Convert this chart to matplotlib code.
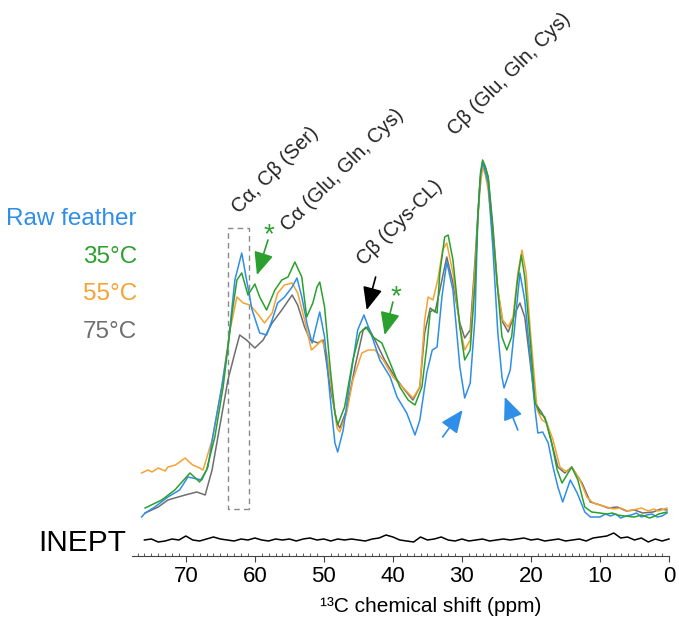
import matplotlib
matplotlib.use("Agg")
import matplotlib.pyplot as plt
from matplotlib.patches import Rectangle
from matplotlib.ticker import MultipleLocator

# --- spectra (ppm, intensity in a.u.) ---
raw_ppm = [76.4, 75.9, 74.5, 72.6, 70.9, 69.7, 67.7, 66.8, 66.1, 64.8, 63.9, 62.9, 61.9, 61.2,
           60.4, 59.3, 58.3, 57.5, 56.7, 55.7, 54.6, 53.9, 53.2, 52.4, 51.7, 51.0, 50.6, 49.9,
           49.1, 48.4, 48.0, 47.2, 46.2, 45.1, 44.2, 43.0, 41.9, 40.4, 39.4, 38.0, 36.8, 36.1,
           35.1, 34.3, 33.6, 32.9, 32.2, 31.3, 30.3, 29.6, 28.8, 28.1, 27.7, 27.3, 27.0, 26.7,
           26.2, 25.5, 24.8, 24.2, 23.9, 23.0, 22.3, 21.6, 20.9, 20.1, 19.4, 19.0, 18.3, 17.5,
           16.8, 16.1, 15.4, 14.3, 13.3, 12.2, 11.4, 10.0, 9.2, 8.5, 7.7, 7.0, 6.2, 5.5, 4.7,
           4.0, 3.2, 2.5, 1.7, 1.0, 0.3]
raw_int = [-2, 2, 8, 18, 25, 38, 35, 48, 78, 128, 168, 235, 262, 235,
           205, 182, 180, 195, 212, 218, 228, 237, 218, 190, 172, 192, 203, 178,
           118, 72, 63, 85, 135, 185, 200, 178, 155, 138, 118, 102, 80, 95,
           142, 165, 168, 218, 253, 225, 148, 117, 132, 198, 298, 340, 353, 345,
           332, 265, 182, 138, 127, 145, 192, 242, 215, 158, 105, 82, 83, 72,
           48, 28, 13, 35, 22, 3, -2, -2, 1, -1, 1, -3, -1, 0, 2,
           -2, 0, 1, -2, -1, 2]

t35_ppm = [75.9, 73.5, 71.6, 69.4, 68.0, 67.0, 65.8, 64.6, 63.3, 62.6, 61.9, 61.0, 60.0, 59.3,
           58.3, 57.1, 56.1, 55.2, 54.2, 53.2, 52.5, 51.6, 51.0, 50.6, 49.9, 49.1, 48.4, 48.0,
           47.0, 45.8, 44.8, 43.9, 42.9, 41.6, 40.4, 39.0, 37.8, 36.8, 35.8, 35.1, 34.6, 34.2,
           33.6, 33.2, 32.5, 32.0, 31.3, 30.3, 29.6, 28.8, 28.1, 27.7, 27.3, 27.0, 26.7, 26.2,
           25.7, 24.9, 24.2, 23.5, 22.8, 22.0, 21.4, 20.9, 20.1, 19.4, 18.7, 18.0, 17.0, 16.2,
           15.5, 14.1, 13.2, 12.2, 11.2, 10.0, 9.0, 8.2, 7.5, 6.5, 5.0, 4.0, 2.8, 2.0, 1.5, 0.3]
t35_int = [7, 15, 25, 42, 33, 45, 78, 128, 202, 235, 242, 220, 231, 218,
           205, 225, 235, 238, 253, 238, 198, 212, 228, 233, 208, 148, 102, 90,
           108, 155, 182, 188, 178, 172, 152, 128, 115, 110, 128, 168, 203, 205,
           202, 242, 278, 280, 255, 188, 155, 165, 232, 298, 343, 355, 350, 338,
           298, 232, 178, 165, 178, 232, 260, 238, 175, 112, 102, 98, 72, 45,
           32, 48, 35, 8, 3, 2, 1, 2, 0, -1, -2, 0, -3, -1, 1, 3]

t55_ppm = [76.4, 75.5, 74.9, 74.0, 73.0, 72.6, 71.5, 70.5, 70.1, 69.5, 69.0, 68.0, 67.5, 66.2,
           64.8, 63.6, 62.6, 61.7, 60.7, 59.7, 58.6, 57.5, 56.7, 55.7, 54.6, 53.8, 52.8, 51.8,
           51.0, 50.3, 49.6, 48.8, 48.1, 47.7, 46.7, 45.8, 44.5, 43.6, 42.6, 41.4, 40.0, 38.6,
           37.1, 36.1, 35.4, 34.9, 34.2, 33.5, 32.8, 32.2, 31.3, 30.3, 29.6, 28.8, 28.1, 27.4,
           27.0, 26.6, 26.2, 25.5, 24.8, 24.1, 23.3, 22.6, 21.9, 21.3, 20.7, 20.1, 19.1, 18.4,
           17.7, 16.8, 15.8, 14.8, 14.1, 12.9, 11.9, 11.0, 9.0, 8.0, 7.0, 6.0, 5.2, 4.0, 3.0,
           2.2, 1.5, 0.3]
t55_int = [42, 45, 43, 47, 44, 48, 50, 55, 57, 53, 50, 47, 45, 75,
           128, 185, 218, 212, 210, 202, 192, 202, 222, 230, 232, 222, 195, 165,
           170, 175, 162, 122, 87, 83, 102, 135, 162, 165, 165, 155, 138, 128,
           117, 128, 195, 218, 215, 235, 265, 272, 242, 188, 165, 175, 248, 325,
           348, 340, 325, 278, 225, 195, 188, 198, 242, 265, 242, 185, 105, 95,
           92, 75, 48, 43, 48, 35, 18, 12, 8, 6, 7, 4, 5, 7, 4,
           6, 4, 7]

t75_ppm = [75.9, 74.0, 72.6, 70.1, 68.4, 67.2, 66.2, 65.1, 63.9, 62.9, 62.2, 61.2, 60.0, 58.8,
           57.5, 56.1, 54.6, 53.8, 52.8, 52.0, 50.9, 50.1, 49.1, 48.1, 47.7, 46.7, 45.5, 44.3,
           43.6, 42.6, 41.2, 39.7, 38.3, 37.1, 36.1, 35.4, 34.6, 33.9, 33.2, 32.2, 31.3, 30.3,
           29.6, 28.8, 28.1, 27.4, 27.0, 26.6, 26.2, 25.5, 24.8, 24.1, 23.3, 22.3, 21.6, 20.9,
           20.1, 19.4, 18.4, 17.7, 17.0, 16.1, 15.1, 14.1, 12.6, 11.4, 10.0, 8.8, 7.5, 6.2,
           5.0, 3.8, 2.3, 1.2, 0.3]
t75_int = [2, 8, 15, 20, 23, 20, 45, 88, 135, 162, 180, 175, 167, 175,
           192, 205, 220, 210, 188, 175, 172, 175, 128, 92, 87, 105, 148, 185,
           188, 175, 155, 138, 125, 115, 128, 182, 207, 203, 225, 258, 232, 192,
           177, 185, 255, 332, 353, 348, 338, 288, 225, 193, 183, 202, 212, 198,
           152, 112, 102, 92, 72, 48, 42, 48, 32, 13, 10, 7, 8, 4,
           5, 2, 3, 6, 5]

inept_ppm = list(range(76, -1, -1))
inept_int = [0, 1, -2, -1, 1, 0, 4, 0, -1, 1, 3, 1, 0, -1, 1, 0, 2, 0, -1, 1,
             0, 1, -1, 1, 2, 0, 1, -1, 1, 0, 1, 0, -1, 1, 2, 5, 3, 0, -1, -2,
             3, 0, 1, 3, 0, -1, 1, -1, 0, 1, -1, 0, 1, 0, 1, 2, 0, 1, -1, 0,
             1, -1, 0, 1, -1, 2, 3, 4, 7, 2, 3, 0, 2, -2, 1, -1, 1]

labels = ["Raw feather", "35°C", "55°C", "75°C"]
colors = ["#2E8EE8", "#2BA02D", "#F5A234", "#6E6E6E"]

plt.rcParams['font.family'] = ['Liberation Sans', 'DejaVu Sans']

fig = plt.figure(figsize=(6.79, 6.18), dpi=100)
ax = fig.add_axes([132 / 679, 62 / 618, 537 / 679, 556 / 618])

series = [(raw_ppm, raw_int), (t35_ppm, t35_int), (t55_ppm, t55_int), (t75_ppm, t75_int)]
for i in [3, 2, 0, 1]:
    ax.plot(series[i][0], series[i][1], color=colors[i], lw=1.1, zorder=3)

inept_offset = -25
ax.plot(inept_ppm, [v + inept_offset for v in inept_int], color="black", lw=1.1, clip_on=False)

# legend-like labels on the left
for lab, col, yy in zip(labels, colors, [296, 258, 221, 183]):
    ax.text(77.1, yy, lab, color=col, fontsize=17.5, ha="right", va="center", clip_on=False)
ax.text(78.6, -28, "INEPT", fontsize=21.5, ha="right", va="center", clip_on=False)

# dashed box around Ca/Cb (Ser)
ax.add_patch(Rectangle((60.9, 6), 3.0, 281, fill=False, ls=(0, (4, 3)), lw=1.0, ec="#8a8a8a"))

# rotated assignments
for txt, xx, yy in [("Cα, Cβ (Ser)", 62.3, 301), ("Cα (Glu, Gln, Cys)", 55.2, 283),
                    ("Cβ (Cys-CL)", 44.2, 249), ("Cβ (Glu, Gln, Cys)", 31.0, 379)]:
    ax.text(xx, yy, txt, rotation=45, rotation_mode="anchor", ha="left", va="baseline",
            fontsize=14.5, color="#222222")

ast = "-|>,head_length=0.7,head_width=0.3"
arrows = [((58.1, 275), (59.7, 240), colors[1]), ((40.0, 213), (41.2, 180), colors[1]),
          ((42.5, 238), (43.8, 205), "black"), ((32.8, 78), (29.9, 105), colors[0]),
          ((21.9, 85), (23.8, 118), colors[0])]
for tail, tip, col in arrows:
    ax.annotate("", xy=tip, xytext=tail,
                arrowprops=dict(arrowstyle=ast, mutation_scale=20, color=col, lw=1.2,
                                shrinkA=0, shrinkB=0))
ax.text(58.0, 280, "*", color=colors[1], fontsize=20, ha="center", va="center")
ax.text(39.6, 218, "*", color=colors[1], fontsize=20, ha="center", va="center")

ax.set_xlim(77.8, 0)
ax.set_ylim(-41, 515)
for s in ["left", "right", "top"]:
    ax.spines[s].set_visible(False)
ax.spines["bottom"].set_color("#444444")
ax.spines["bottom"].set_linewidth(0.8)
ax.set_yticks([])
ax.xaxis.set_major_locator(MultipleLocator(10))
ax.xaxis.set_minor_locator(MultipleLocator(1))
ax.tick_params(axis="x", which="major", direction="out", length=4.5, width=0.8,
               color="#444444", pad=3, labelsize=16)
ax.tick_params(axis="x", which="minor", direction="in", length=2.2, width=0.6, color="#444444")
ax.text(34.5, -92, "¹³C chemical shift (ppm)", fontsize=15,
        ha="center", va="center", clip_on=False)

fig.savefig("out.png", dpi=100)
